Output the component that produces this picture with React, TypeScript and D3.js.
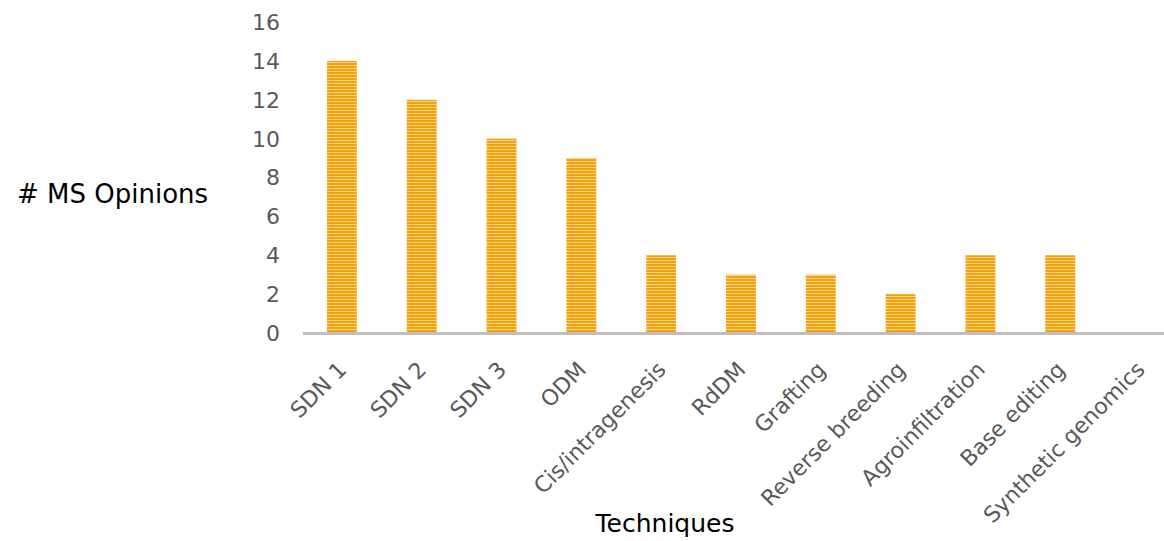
import React from "react";
import * as d3 from "d3";

const categories = ["SDN 1", "SDN 2", "SDN 3", "ODM", "Cis/intragenesis", "RdDM", "Grafting", "Reverse breeding", "Agroinfiltration", "Base editing", "Synthetic genomics"];
const values = [14, 12, 10, 9, 4, 3, 3, 2, 4, 4, 0];
const yTicks = [0, 2, 4, 6, 8, 10, 12, 14, 16];

const W = 1164, H = 541;
const FONT = "Verdana, 'DejaVu Sans', sans-serif";

export default function App() {
  const x = d3.scaleBand<string>().domain(categories).range([302, 1180]).paddingInner(0.625).paddingOuter(0.3125);
  const y = d3.scaleLinear().domain([0, 16]).range([333, 22]);
  return (
    <svg width={W} height={H} style={{ position: "absolute", left: 0, top: 0 }}>
      <defs>
        <pattern id="stripes" width="6" height="3" patternUnits="userSpaceOnUse">
          <rect width="6" height="3" fill="#fbd28a" />
          <rect width="6" height="2" fill="#f5a20a" />
        </pattern>
      </defs>
      {yTicks.map(t => (
        <text key={t} x={280} y={y(t)} dy="0.36em" textAnchor="end" fontFamily={FONT} fontSize={22} fill="#595959">{t}</text>
      ))}
      {categories.map((c, i) => (
        <rect key={c} x={x(c)!} y={y(values[i])} width={x.bandwidth()} height={y(0) - y(values[i])} fill="url(#stripes)" />
      ))}
      <line x1={303} x2={1180} y1={y(0) + 0.5} y2={y(0) + 0.5} stroke="#bfbfbf" strokeWidth={3} />
      {categories.map(c => {
        const cx = x(c)! + x.bandwidth() / 2;
        return (
          <text key={c} transform={`translate(${cx + 6},${371}) rotate(-45)`} textAnchor="end" fontFamily={FONT} fontSize={22} fill="#595959">{c}</text>
        );
      })}
      <text x={17} y={194} dy="0.36em" fontFamily={FONT} fontSize={26} fill="#000">{"# MS Opinions"}</text>
      <text x={665} y={532} textAnchor="middle" fontFamily={FONT} fontSize={25} fill="#000">Techniques</text>
    </svg>
  );
}
